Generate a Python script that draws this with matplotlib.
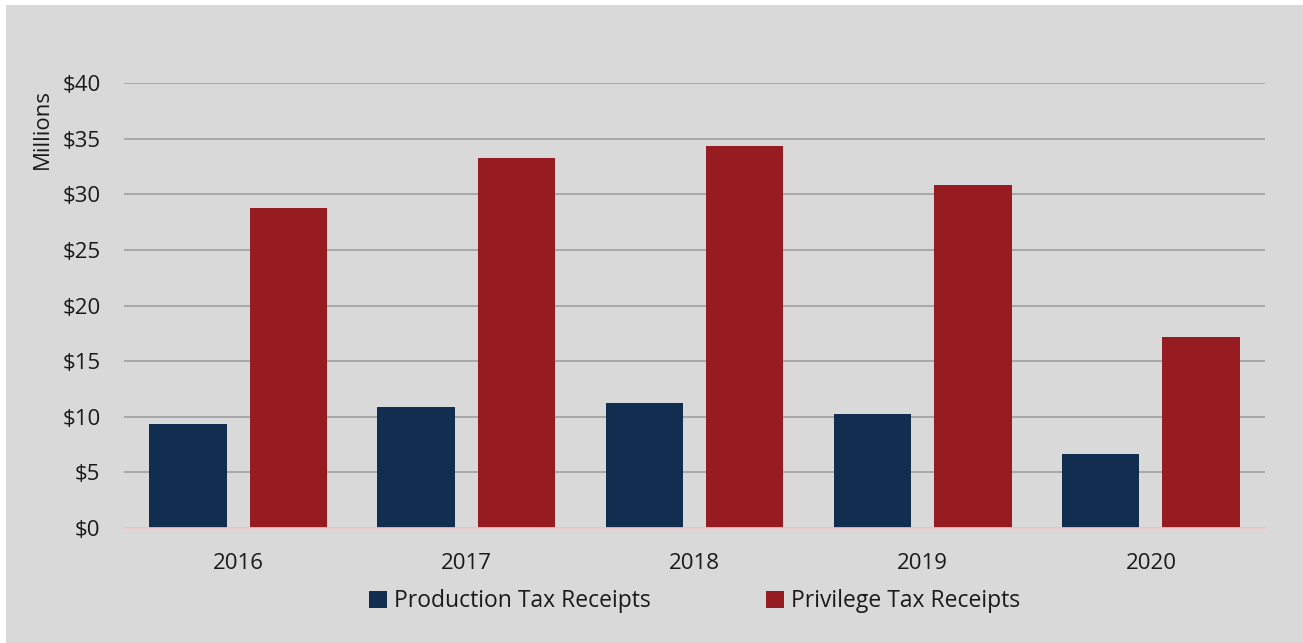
import matplotlib.pyplot as plt
import numpy as np
from matplotlib.patches import Rectangle

# data (millions of dollars)
years = ["2016", "2017", "2018", "2019", "2020"]
production = [9.35, 10.88, 11.26, 10.27, 6.65]
privilege = [28.76, 33.26, 34.34, 30.8, 17.2]
y_ticks = [0, 5, 10, 15, 20, 25, 30, 35, 40]

navy = "#112d4f"
red = "#971c22"
bg = "#d9d9d9"

plt.rcParams['font.family'] = ['Open Sans', 'DejaVu Sans']

fig = plt.figure(figsize=(13.03, 6.43), dpi=100, facecolor="white")
# gray panel with thin white edge at top/left
fig.patches.append(Rectangle((6 / 1303, 0), 1, 1 - 5 / 643, transform=fig.transFigure,
                             facecolor=bg, edgecolor="none", zorder=-10))

ax = fig.add_axes([124 / 1303, 1 - 528 / 643, (1265 - 124) / 1303, (528 - 83) / 643])
ax.set_facecolor(bg)

x = np.arange(len(years))
width = 0.34
offset = 0.22
ax.bar(x - offset, production, width, color=navy, label="Production Tax Receipts", zorder=3)
ax.bar(x + offset, privilege, width, color=red, label="Privilege Tax Receipts", zorder=3)

ax.set_xlim(-0.5, len(years) - 0.5)
ax.set_ylim(0, 40)
ax.set_yticks(y_ticks)
ax.set_yticklabels([f"${v}" for v in y_ticks])
ax.set_xticks(x)
ax.set_xticklabels(years)

ax.yaxis.grid(True, color="#a3a3a3", linewidth=1.3, zorder=0)
ax.set_axisbelow(True)
for s in ["top", "right", "left"]:
    ax.spines[s].set_visible(False)
ax.spines["bottom"].set_color("#efc9c9")
ax.spines["bottom"].set_linewidth(1.2)
ax.spines["bottom"].set_zorder(4)

ax.tick_params(axis="y", length=0, pad=17, labelsize=16, colors="#1a1a1a")
ax.tick_params(axis="x", length=0, pad=18, labelsize=16, colors="#1a1a1a")

fig.text(42 / 1303, 1 - 129 / 643, "Millions", rotation=90, ha="center", va="center",
         fontsize=16, color="#1a1a1a")

ax.legend(loc="center", bbox_to_anchor=(0.5, -0.165), ncol=2, frameon=False,
          fontsize=16.5, handlelength=0.8, handleheight=0.8, handletextpad=0.3,
          columnspacing=5.0, labelcolor="#1a1a1a")

fig.savefig("out.png", dpi=100, facecolor=fig.get_facecolor())
